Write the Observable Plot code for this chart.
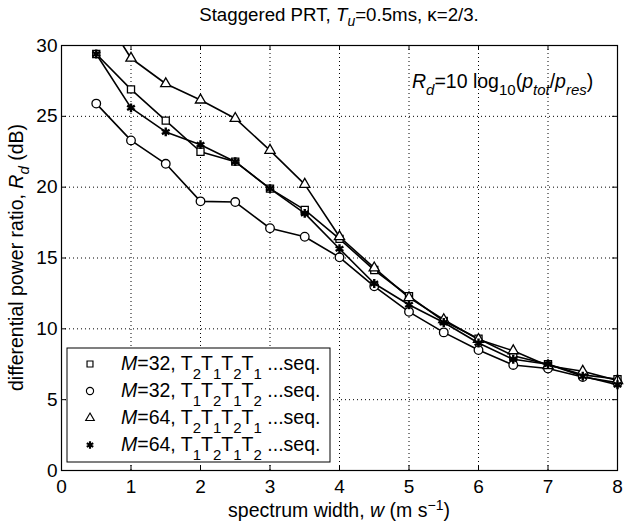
<!DOCTYPE html>
<html><head><meta charset="utf-8">
<script src="https://cdn.jsdelivr.net/npm/d3@7"></script>
<script src="https://cdn.jsdelivr.net/npm/@observablehq/plot@0.6"></script>
<style>
body{margin:0;background:#fff;font-family:"Liberation Sans",Arial,Helvetica,sans-serif;}
#title{position:absolute;left:0;top:0;width:678px;height:30px;line-height:30px;text-align:center;font-size:18.7px;color:#000;}
#title sub{font-size:14px;vertical-align:-5px;line-height:0;}
#chart{position:absolute;left:0;top:30px;}
</style></head><body>
<div id="title">Staggered PRT, <i>T</i><sub><i>u</i></sub>=0.5ms, κ=2/3.</div>
<div id="chart"></div>
<script>
// spectrum width w (m/s)
const widths = [0.5, 1, 1.5, 2, 2.5, 3, 3.5, 4, 4.5, 5, 5.5, 6, 6.5, 7, 7.5, 8];
// R_d (dB)
const m32_T2T1 = [29.4, 26.9, 24.7, 22.5, 21.8, 19.9, 18.4, 16.35, 14.15, 12.3, 10.55, 9.3, 8.1, 7.5, 6.75, 6.45];
const m32_T1T2 = [25.9, 23.3, 21.65, 19.0, 18.95, 17.1, 16.5, 15.05, 13.0, 11.2, 9.75, 8.5, 7.45, 7.2, 6.6, 6.2];
const m64_T2T1 = [33.0, 29.1, 27.3, 26.15, 24.85, 22.6, 20.2, 16.5, 14.3, 12.2, 10.65, 9.25, 8.45, 7.4, 7.0, 6.35];
const m64_T1T2 = [29.4, 25.6, 23.9, 23.0, 21.8, 19.9, 18.15, 15.65, 13.2, 11.7, 10.45, 9.0, 7.85, 7.5, 6.65, 6.05];
const xTicks = [0, 1, 2, 3, 4, 5, 6, 7, 8];
const yTicks = [0, 5, 10, 15, 20, 25, 30];
const xGrid = [1, 2, 3, 4, 5, 6, 7];
const yGrid = [5, 10, 15, 20, 25];

const series = [
  {key: "a", M: "32", seq: ["2","1","2","1"], values: m32_T2T1, symbol: "square", r: 4, fill: "white", sw: 1.3},
  {key: "b", M: "32", seq: ["1","2","1","2"], values: m32_T1T2, symbol: "circle", r: 4.3, fill: "white", sw: 1.3},
  {key: "c", M: "64", seq: ["2","1","2","1"], values: m64_T2T1, symbol: "triangle", r: 3.8, fill: "white", sw: 1.3},
  {key: "d", M: "64", seq: ["1","2","1","2"], values: m64_T1T2, symbol: "asterisk", r: 4.2, fill: "black", sw: 2.4}
];
const rows = series.flatMap(s => widths.map((w, i) => ({w, v: s.values[i], key: s.key})));

const W = 625, H = 497;
const mT = 15, mR = 8, mB = 57, mL = 61;
const fw = W - mL - mR, fh = H - mT - mB;
const font = '"Liberation Sans", Arial, Helvetica, sans-serif';
const FS = 19.5;

const marks = [
  Plot.ruleX(xGrid, {x: d => d, stroke: "black", strokeWidth: 1, strokeDasharray: "1,3"}),
  Plot.ruleY(yGrid, {y: d => d, stroke: "black", strokeWidth: 1, strokeDasharray: "1,3"})
];
for (const s of series) {
  marks.push(Plot.line(rows.filter(d => d.key === s.key), {x: "w", y: "v", stroke: "black", strokeWidth: 1.6, clip: true}));
}
for (const s of series) {
  marks.push(Plot.dot(rows.filter(d => d.key === s.key && d.v <= 30), {x: "w", y: "v", symbol: () => s.symbol, r: s.r, stroke: "black", fill: s.fill, strokeWidth: s.sw}));
}
marks.push(
  Plot.frame({stroke: "black", strokeWidth: 1.2}),
  Plot.tickX(xTicks, {x: d => d, insetTop: fh - 5, stroke: "black"}),
  Plot.tickX(xTicks, {x: d => d, insetBottom: fh - 5, stroke: "black"}),
  Plot.tickY(yTicks, {y: d => d, insetRight: fw - 5, stroke: "black"}),
  Plot.tickY(yTicks, {y: d => d, insetLeft: fw - 5, stroke: "black"}),
  Plot.axisX({ticks: xTicks, tickSize: 0, tickPadding: 9, label: null, tickFormat: d => String(d)}),
  Plot.axisY({ticks: yTicks, tickSize: 0, tickPadding: 4, label: null, tickFormat: d => String(d)})
);

const plot = Plot.plot({
  width: W, height: H,
  marginTop: mT, marginRight: mR, marginBottom: mB, marginLeft: mL,
  style: {fontFamily: font, fontSize: "19px", background: "white", color: "black", overflow: "visible"},
  x: {domain: [0, 8]},
  y: {domain: [0, 30]},
  symbol: {type: "identity"},
  marks
});
document.getElementById("chart").appendChild(plot);

const sx = plot.scale("x").apply, sy = plot.scale("y").apply;
const svg = d3.select(plot);

function rich(text, parts, small) {
  let cur = 0;
  for (const p of parts) {
    const o = p.o || 0;
    const t = text.append("tspan").text(p.t);
    if (p.i) t.attr("font-style", "italic");
    if (o !== 0) t.attr("font-size", small);
    if (o !== cur) t.attr("dy", o - cur);
    cur = o;
  }
}

// x-axis label
const xl = svg.append("text").attr("x", mL + fw / 2).attr("y", H - 10).attr("text-anchor", "middle")
  .attr("font-size", FS).attr("font-family", font).attr("fill", "black");
rich(xl, [{t: "spectrum width, "}, {t: "w", i: 1}, {t: " (m s"}, {t: "−1", o: -7}, {t: ")"}], "14px");

// y-axis label
const yl = svg.append("text").attr("transform", `translate(23,${mT + fh / 2}) rotate(-90)`).attr("text-anchor", "middle")
  .attr("font-size", FS).attr("font-family", font).attr("fill", "black");
rich(yl, [{t: "differential power ratio, "}, {t: "R", i: 1}, {t: "d", i: 1, o: 6}, {t: " (dB)"}], "15px");

// formula annotation
const fx = 5.05, fy = 27.0;
const ft = svg.append("text").attr("x", sx(fx)).attr("y", sy(fy)).attr("text-anchor", "start")
  .attr("font-size", FS).attr("font-family", font).attr("fill", "black");
rich(ft, [{t: "R", i: 1}, {t: "d", i: 1, o: 7}, {t: "=10 log"}, {t: "10", o: 7}, {t: "("}, {t: "p", i: 1}, {t: "tot", i: 1, o: 7},
  {t: "/"}, {t: "p", i: 1}, {t: "res", i: 1, o: 7}, {t: ")"}], "15px");

// legend
const lg = svg.append("g");
const bx = mL + 6, by = mT + fh - 122, bw = 263, bh = 114;
lg.append("rect").attr("x", bx).attr("y", by).attr("width", bw).attr("height", bh)
  .attr("fill", "white").attr("stroke", "black").attr("stroke-width", 1);
series.forEach((s, k) => {
  const cy = by + 16 + k * 27;
  const symbolType = {square: d3.symbolSquare, circle: d3.symbolCircle, triangle: d3.symbolTriangle, asterisk: d3.symbolAsterisk}[s.symbol];
  lg.append("path").attr("transform", `translate(${bx + 23},${cy})`)
    .attr("d", d3.symbol(symbolType, Math.PI * s.r * s.r * 0.7)())
    .attr("fill", s.fill).attr("stroke", "black").attr("stroke-width", s.sw * 0.9);
  const t = lg.append("text").attr("x", bx + 54).attr("y", cy + 6).attr("text-anchor", "start")
    .attr("font-size", FS).attr("font-family", font).attr("fill", "black");
  const parts = [{t: "M", i: 1}, {t: "=" + s.M + ", T"}];
  s.seq.forEach((n, j) => {
    parts.push({t: n, o: 9});
    if (j < 3) parts.push({t: "T"});
  });
  parts.push({t: " ...seq."});
  rich(t, parts, "15px");
});
</script>
</body></html>
